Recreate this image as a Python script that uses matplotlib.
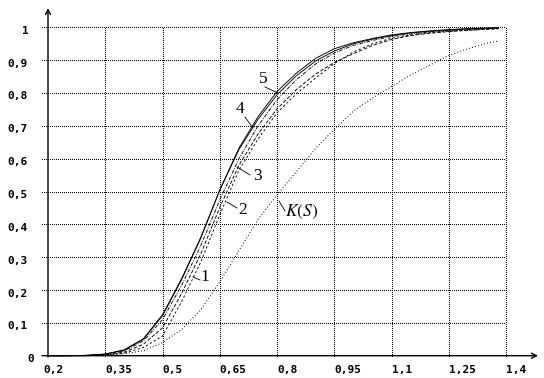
import matplotlib
matplotlib.use("Agg")
import matplotlib.pyplot as plt

# ---- data ----
s = [0.2, 0.25, 0.3, 0.35, 0.4, 0.45, 0.5, 0.55, 0.6, 0.65, 0.7, 0.75, 0.8,
     0.85, 0.9, 0.95, 1.0, 1.05, 1.1, 1.15, 1.2, 1.25, 1.3, 1.35, 1.38]
curve5 = [0, 0, 0.001, 0.005, 0.017, 0.05, 0.122, 0.232, 0.358, 0.505, 0.632, 0.728, 0.805,
          0.86, 0.905, 0.935, 0.953, 0.966, 0.977, 0.984, 0.989, 0.993, 0.996, 0.998, 0.999]
curve4 = [0, 0, 0.001, 0.005, 0.018, 0.052, 0.125, 0.235, 0.36, 0.505, 0.628, 0.72, 0.795,
          0.852, 0.897, 0.928, 0.95, 0.964, 0.975, 0.983, 0.988, 0.992, 0.995, 0.997, 0.998]
curve3 = [0, 0, 0.001, 0.004, 0.015, 0.045, 0.11, 0.215, 0.335, 0.475, 0.6, 0.70, 0.78,
          0.84, 0.888, 0.922, 0.945, 0.96, 0.972, 0.98, 0.986, 0.99, 0.993, 0.996, 0.997]
curve2 = [0, 0, 0, 0.003, 0.011, 0.035, 0.085, 0.19, 0.31, 0.452, 0.58, 0.675, 0.752,
          0.81, 0.857, 0.893, 0.92, 0.945, 0.963, 0.975, 0.982, 0.987, 0.991, 0.994, 0.996]
curve1 = [0, 0, 0, 0.002, 0.008, 0.025, 0.06, 0.165, 0.285, 0.43, 0.565, 0.66, 0.74,
          0.797, 0.845, 0.89, 0.925, 0.95, 0.967, 0.977, 0.984, 0.988, 0.991, 0.994, 0.996]
kolmogorov = [0, 0, 0, 0.002, 0.006, 0.015, 0.04, 0.08, 0.14, 0.225, 0.32, 0.415, 0.49,
              0.56, 0.63, 0.69, 0.745, 0.785, 0.82, 0.855, 0.885, 0.915, 0.935, 0.952, 0.958]

x_ticks = [0.2, 0.35, 0.5, 0.65, 0.8, 0.95, 1.1, 1.25, 1.4]
x_labels = ["0,2", "0,35", "0,5", "0,65", "0,8", "0,95", "1,1", "1,25", "1,4"]
y_ticks = [0, 0.1, 0.2, 0.3, 0.4, 0.5, 0.6, 0.7, 0.8, 0.9, 1.0]
y_labels = ["0", "0,1", "0,2", "0,3", "0,4", "0,5", "0,6", "0,7", "0,8", "0,9", "1"]

# ---- layout: pixel mapping ----
W, H = 544, 378
X0PX, Y0PX = 48.0, 355.7
SX = (506.3 - 48.0) / 1.2
SY = (355.7 - 27.3) / 1.0


def px(xp, yp):
    return 0.2 + (xp - X0PX) / SX, (Y0PX - yp) / SY


plt.rcParams["mathtext.fontset"] = "stix"
fig = plt.figure(figsize=(W / 100, H / 100), dpi=100)
ax = fig.add_axes([0, 0, 1, 1])
ax.set_xlim(px(0, 0)[0], px(W, 0)[0])
ax.set_ylim(px(0, H)[1], px(0, 0)[1])
ax.axis("off")

grid_kw = dict(color="black", lw=0.72, linestyle=(0, (1, 1.4)), antialiased=False)
# grid
for yt in y_ticks[1:]:
    ax.plot([px(42, 0)[0], 1.4], [yt, yt], **grid_kw)
for xt in x_ticks[1:]:
    ax.plot([xt, xt], [0, 1.0], **grid_kw)

# axes with arrows
ax.annotate("", xy=px(538, Y0PX), xytext=px(42, Y0PX),
            arrowprops=dict(arrowstyle="->", lw=1.0, color="black",
                            shrinkA=0, shrinkB=0, mutation_scale=9))
ax.annotate("", xy=px(X0PX, 8), xytext=px(X0PX, 357),
            arrowprops=dict(arrowstyle="->", lw=1.0, color="black",
                            shrinkA=0, shrinkB=0, mutation_scale=9))

# tick labels
tick_font = dict(family="DejaVu Sans Mono", fontweight="bold", fontsize=8, color="black")
for xt, lab in zip(x_ticks, x_labels):
    dx = -5 if xt == 0.2 else 0
    ax.text(xt + dx / SX, px(0, 370)[1], lab, ha="left", va="center", **tick_font)
for yt, lab in zip(y_ticks, y_labels):
    if "," in lab:
        left = 7
    elif lab == "1":
        left = 22
    else:
        left = 27
    ax.text(px(left, 0)[0], yt - 3.5 / SY, lab, ha="left", va="center", **tick_font)

# curves
lw = 0.65
ax.plot(s, kolmogorov, color="black", lw=0.7, linestyle=(0, (1, 2.2)))
ax.plot(s, curve1, color="black", lw=lw, linestyle=(0, (2.5, 2.5)))
ax.plot(s, curve2, color="black", lw=lw, linestyle=(0, (4, 2)))
ax.plot(s, curve3, color="black", lw=lw, linestyle=(0, (4, 1.5, 1, 1.5)))
ax.plot(s, curve4, color="black", lw=lw, linestyle="-")
ax.plot(s, curve5, color="black", lw=lw, linestyle="-")

# curve labels and leaders
lab_font = dict(family="Liberation Serif", fontsize=12.5, color="black")
leaders = [
    ("1", (193, 277), (200, 280), (205, 277)),
    ("2", (227, 202), (237, 208), (243, 210)),
    ("3", (237, 167), (250, 175), (257, 176)),
    ("4", (253, 128), (245, 117), (240, 109)),
    ("5", (278, 93), (265, 87), (263, 79)),
]
for lab, p0, p1, pt in leaders:
    a, b = px(*p0), px(*p1)
    ax.plot([a[0], b[0]], [a[1], b[1]], color="black", lw=0.6)
    ax.text(*px(*pt), lab, ha="center", va="center", **lab_font)

a, b = px(279, 201), px(285, 211)
ax.plot([a[0], b[0]], [a[1], b[1]], color="black", lw=0.6)
ax.text(*px(285, 212), r"$K(S)$", ha="left", va="center", fontsize=12.5, color="black")

fig.savefig("out.png", dpi=100)
